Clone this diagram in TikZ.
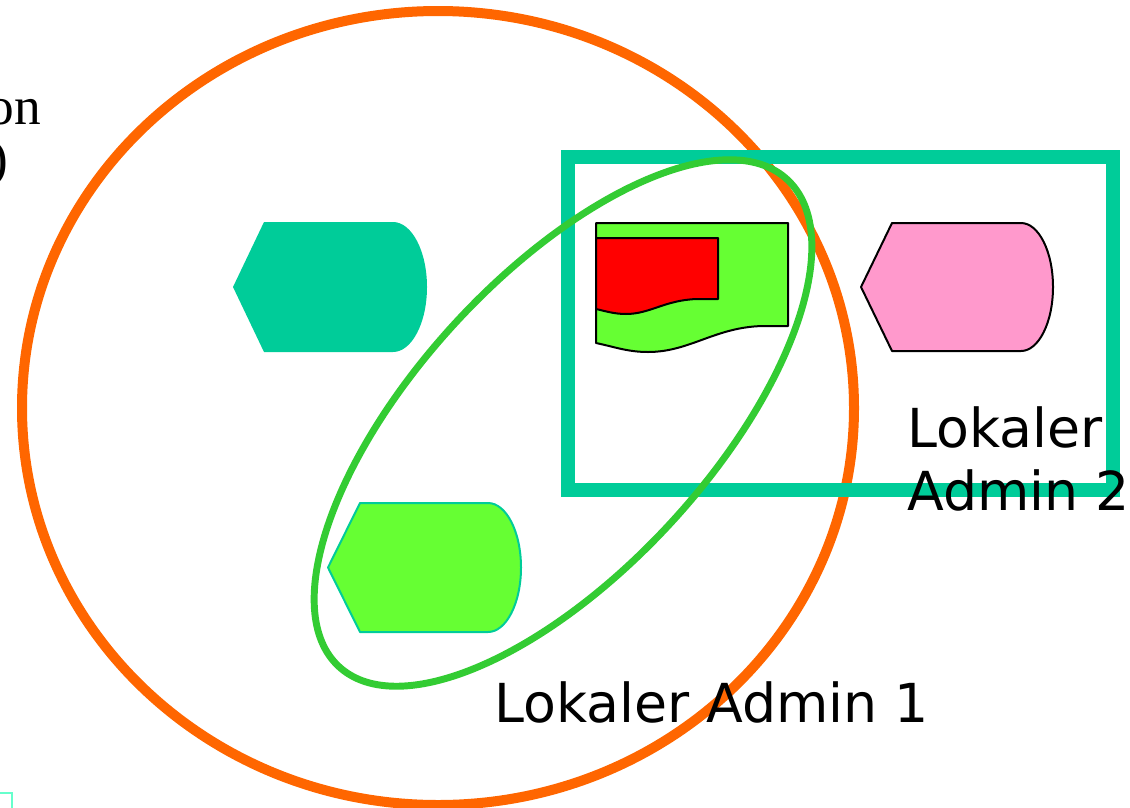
\documentclass[tikz,border=0pt]{standalone}
\usepackage{fontspec}
\setmainfont{Liberation Serif}
\newfontfamily\labelfont{DejaVu Sans}
\definecolor{orangeC}{HTML}{FF6600}
\definecolor{tealC}{HTML}{00CC99}
\definecolor{greenL}{HTML}{33CC33}
\definecolor{greenF}{HTML}{66FF33}
\definecolor{pinkF}{HTML}{FF99CC}
\definecolor{aquaC}{HTML}{66FFCC}
\begin{document}
\begin{tikzpicture}[x=0.75pt,y=-0.75pt,
  ring/.style={draw=orangeC,line width=7.5pt},
  boxline/.style={draw=tealC,line width=11pt},
  ellline/.style={draw=greenL,line width=5.2pt},
  outl/.style={draw=black,line width=1.5pt,line join=round},
  lbl/.style={font=\labelfont\fontsize{40.3}{48}\selectfont,inner sep=0pt,anchor=base west},
  sertxt/.style={font=\fontsize{40}{48}\selectfont,inner sep=0pt,anchor=base east}]
\useasboundingbox (0,0) rectangle (1130,807);
\clip (0,0) rectangle (1130,807);
% partially visible text at left
\node[sertxt] (on) at (41,124) {on};
\node[sertxt] (par) at (9,176) {)};
% corner of an outside rectangle
\draw[aquaC,line width=1.5pt] (0,793) -- (12,793) -- (12,810);
% orange ring
\draw[ring] (438,408) ellipse [x radius=416, y radius=397];
% teal rectangle
\draw[boxline] (568,157) rectangle (1113,490);
% teal display shape
\fill[tealC] (233,287) -- (264,222) -- (393,222)
  arc[start angle=-90,end angle=90,x radius=34,y radius=65] -- (264,352) -- cycle;
% pink display shape
\filldraw[fill=pinkF,outl] (861,287) -- (892,223) -- (1021,223)
  arc[start angle=-90,end angle=90,x radius=32,y radius=64] -- (892,351) -- cycle;
% green display shape
\filldraw[fill=greenF,draw=tealC,line width=1.5pt,line join=round] (328,567.5) -- (360,503) -- (488,503)
  arc[start angle=-90,end angle=90,x radius=33,y radius=64.5] -- (360,632) -- cycle;
% document shape (green) with red inner document
\filldraw[fill=greenF,outl] (596,223) -- (788,223) -- (788,326) -- (763,326)
  .. controls (715,327) and (690,352) .. (648,352)
  .. controls (628,352) and (615,347) .. (596,343) -- cycle;
\filldraw[fill=red,outl] (596,238) -- (718,238) -- (718,299) -- (697,299)
  .. controls (665,300) and (650,314) .. (626,314)
  .. controls (614,314) and (605,311) .. (596,309) -- cycle;
% green ellipse
\draw[ellline,rotate around={47.4:(563,423)}] (563,423) ellipse [x radius=331, y radius=147];
% labels
\node[lbl] (admin1) at (494,722) {Lokaler Admin 1};
\node[lbl] (admin2a) at (907,447) {Lokaler};
\node[lbl] (admin2b) at (907,510) {Admin 2};
\end{tikzpicture}
\end{document}
